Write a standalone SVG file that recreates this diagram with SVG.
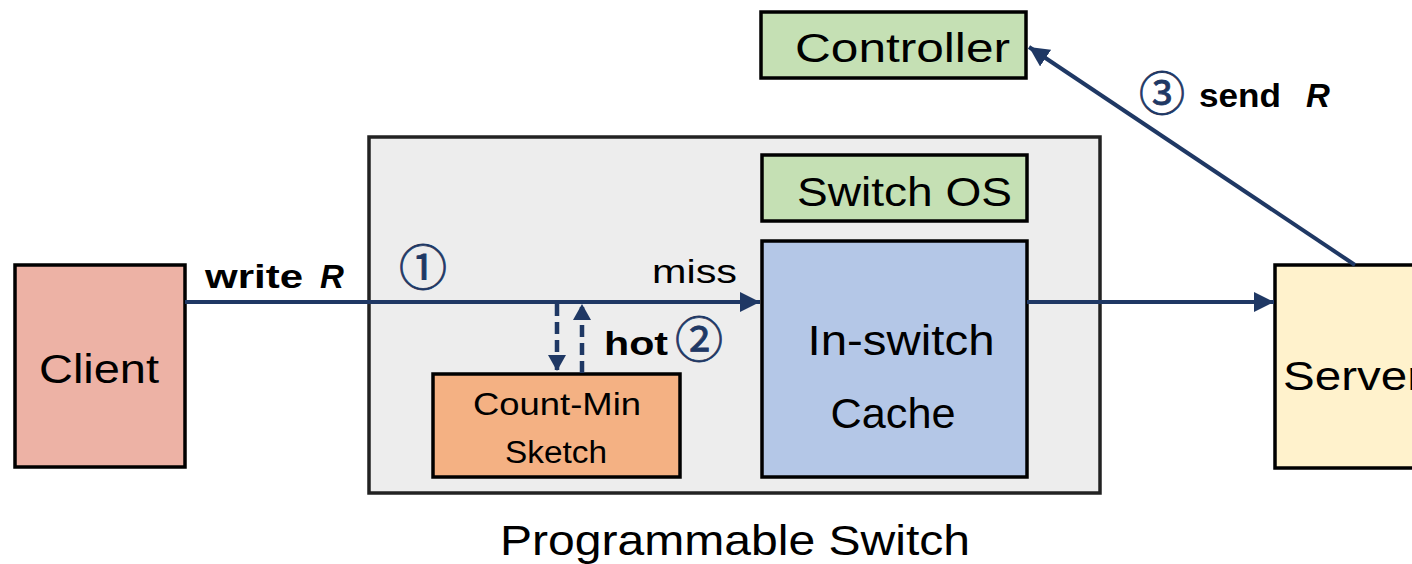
<svg xmlns="http://www.w3.org/2000/svg" width="1412" height="564" viewBox="0 0 1412 564">
<style>
.box{stroke:#000;stroke-width:3.5}
.t{font-family:"Liberation Sans",Arial,sans-serif;fill:#000}
.b{font-weight:bold}
.c{font-family:"Noto Sans CJK SC","DejaVu Sans",sans-serif;fill:#1F3864;stroke:#1F3864;stroke-width:0.8}
.ln{stroke:#1F3864;stroke-width:4;fill:none}
.dash{stroke:#1F3864;stroke-width:4.5;fill:none;stroke-dasharray:12,6}
</style>
<defs>
<marker id="ah" markerUnits="userSpaceOnUse" markerWidth="22" markerHeight="20" refX="20" refY="10" orient="auto">
<path d="M0,0 L20,10 L0,20 Z" fill="#1F3864"/>
</marker>
<marker id="ahs" markerUnits="userSpaceOnUse" markerWidth="18" markerHeight="18" refX="16" refY="9" orient="auto">
<path d="M0,0 L16,9 L0,18 Z" fill="#1F3864"/>
</marker>
</defs>
<g id="switch">
<rect x="369" y="137" width="731" height="356" fill="#EDEDED" stroke="#222" stroke-width="3.5"/>
<text class="t" x="735" y="555" font-size="42" text-anchor="middle" textLength="470" lengthAdjust="spacingAndGlyphs">Programmable Switch</text>
</g>
<g id="client">
<rect class="box" x="15" y="265" width="170" height="202" fill="#EDB2A5"/>
<text class="t" x="99" y="383" font-size="40" text-anchor="middle" textLength="120" lengthAdjust="spacingAndGlyphs">Client</text>
</g>
<g id="controller">
<rect class="box" x="761" y="12" width="265" height="66" fill="#C5E0B4"/>
<text class="t" x="795" y="62" font-size="40" textLength="215" lengthAdjust="spacingAndGlyphs">Controller</text>
</g>
<g id="switchos">
<rect class="box" x="762" y="155" width="265" height="66" fill="#C5E0B4"/>
<text class="t" x="797" y="206" font-size="40" textLength="215" lengthAdjust="spacingAndGlyphs">Switch OS</text>
</g>
<g id="cache">
<rect class="box" x="762" y="241" width="265" height="236" fill="#B4C7E7"/>
<text class="t" x="901" y="355" font-size="42" text-anchor="middle" textLength="187" lengthAdjust="spacingAndGlyphs">In-switch</text>
<text class="t" x="893" y="428" font-size="42" text-anchor="middle" textLength="125" lengthAdjust="spacingAndGlyphs">Cache</text>
</g>
<g id="cms">
<rect class="box" x="433" y="374" width="247" height="103" fill="#F4B183"/>
<text class="t" x="557" y="415" font-size="31" text-anchor="middle" textLength="168" lengthAdjust="spacingAndGlyphs">Count-Min</text>
<text class="t" x="556" y="463" font-size="31" text-anchor="middle" textLength="102" lengthAdjust="spacingAndGlyphs">Sketch</text>
</g>
<g id="server">
<rect class="box" x="1275" y="265" width="160" height="203" fill="#FFF2CC"/>
<text class="t" x="1283" y="390" font-size="40" textLength="140" lengthAdjust="spacingAndGlyphs">Server</text>
</g>
<g id="connectors">
<line class="ln" x1="185" y1="302" x2="760" y2="302" marker-end="url(#ah)"/>
<line class="ln" x1="1027" y1="302" x2="1274" y2="302" marker-end="url(#ah)"/>
<line class="ln" x1="1355" y1="265" x2="1029" y2="47" marker-end="url(#ah)"/>
<line class="dash" x1="557" y1="304" x2="557" y2="371" marker-end="url(#ahs)"/>
<line class="dash" x1="582" y1="373" x2="582" y2="304" marker-end="url(#ahs)"/>
</g>
<g id="labels">
<text class="t b" x="205" y="288" font-size="33" textLength="98" lengthAdjust="spacingAndGlyphs">write</text>
<text class="t b" x="320" y="288" font-size="33" font-style="italic">R</text>
<text class="c" x="423" y="285" font-size="48" text-anchor="middle">①</text>
<text class="t" x="652" y="283" font-size="33" textLength="85" lengthAdjust="spacingAndGlyphs">miss</text>
<text class="t b" x="604" y="355" font-size="34" textLength="64" lengthAdjust="spacingAndGlyphs">hot</text>
<text class="c" x="699" y="357" font-size="48" text-anchor="middle">②</text>
<text class="c" x="1162" y="110" font-size="46" text-anchor="middle">③</text>
<text class="t b" x="1199" y="107" font-size="33" textLength="82" lengthAdjust="spacingAndGlyphs">send</text>
<text class="t b" x="1306" y="107" font-size="33" font-style="italic">R</text>
</g>
</svg>
